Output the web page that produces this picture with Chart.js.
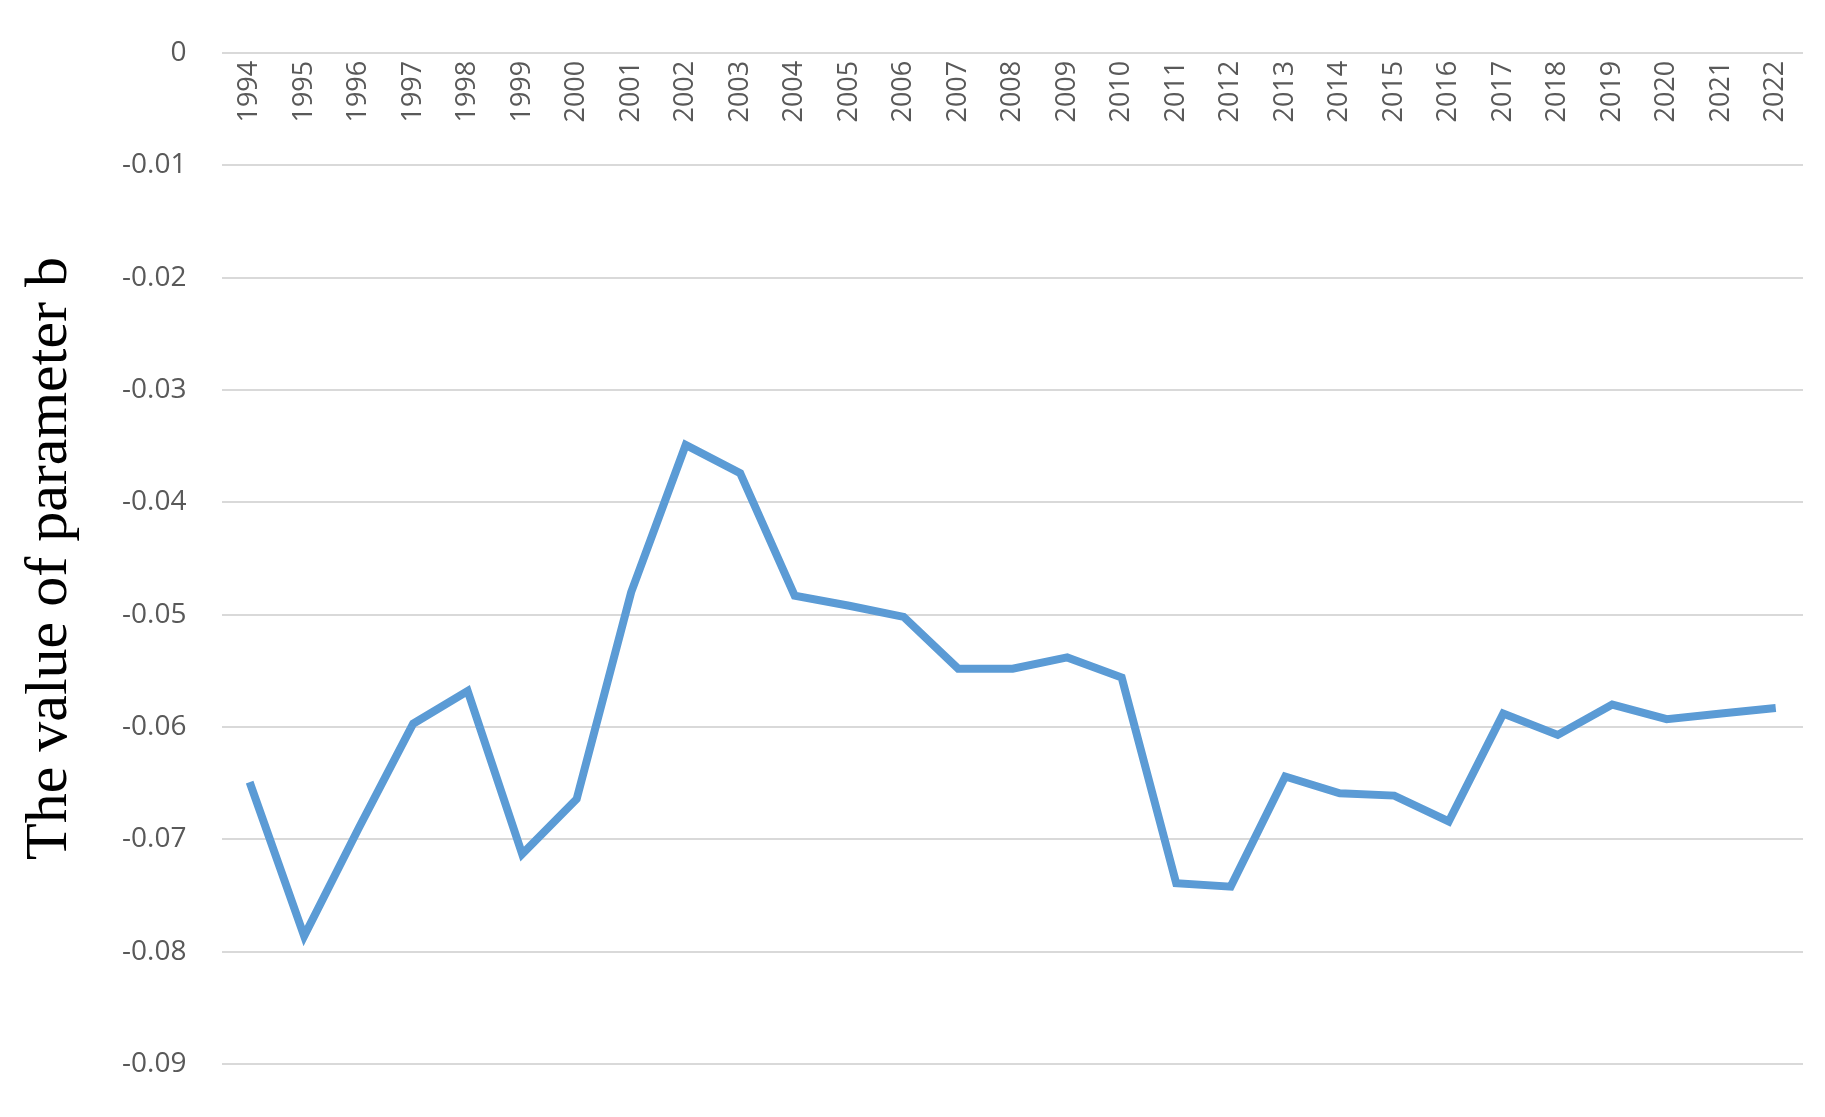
<!DOCTYPE html>
<html>
<head>
<meta charset="utf-8">
<script src="https://cdn.jsdelivr.net/npm/chart.js@4"></script>
<style>
  html, body { margin: 0; padding: 0; background: #fff; }
  #wrap { width: 1825px; height: 1117px; }
</style>
</head>
<body>
<div id="wrap"><canvas id="chart"></canvas></div>
<script>
const years = ["1994","1995","1996","1997","1998","1999","2000","2001","2002","2003",
  "2004","2005","2006","2007","2008","2009","2010","2011","2012","2013",
  "2014","2015","2016","2017","2018","2019","2020","2021","2022"];
const paramB = [-0.0649, -0.0786, -0.0690, -0.0597, -0.0568, -0.0713, -0.0664, -0.0480, -0.0349, -0.0374,
  -0.0483, -0.0492, -0.0502, -0.0548, -0.0548, -0.0538, -0.0556, -0.0739, -0.0742, -0.0644,
  -0.0659, -0.0661, -0.0684, -0.0588, -0.0607, -0.0580, -0.0593, -0.0588, -0.0583];
const yTicks = [0, -0.01, -0.02, -0.03, -0.04, -0.05, -0.06, -0.07, -0.08, -0.09];

// year labels sit just under the zero line, rotated
const topLabels = {
  id: "topLabels",
  afterDraw(chart) {
    const ctx = chart.ctx;
    const xs = chart.scales.x;
    const top = chart.chartArea.top;
    ctx.save();
    ctx.font = "27px 'Open Sans', sans-serif";
    ctx.fillStyle = "#595959";
    ctx.textAlign = "right";
    ctx.textBaseline = "middle";
    years.forEach((yr, i) => {
      ctx.save();
      ctx.translate(xs.getPixelForValue(i), top + 8);
      ctx.rotate(-Math.PI / 2);
      ctx.fillText(yr, 0, 0);
      ctx.restore();
    });
    ctx.restore();
  }
};

new Chart(document.getElementById("chart"), {
  type: "line",
  data: {
    labels: years,
    datasets: [{
      data: paramB,
      borderColor: "#5b9bd5",
      borderWidth: 8,
      pointRadius: 0,
      tension: 0,
      fill: false
    }]
  },
  options: {
    responsive: true,
    maintainAspectRatio: false,
    animation: false,
    layout: { padding: { top: 11, right: 22, bottom: 2, left: 14 } },
    plugins: { legend: { display: false }, tooltip: { enabled: false } },
    scales: {
      x: {
        display: false,
        offset: true
      },
      y: {
        min: -0.09,
        max: 0,
        afterBuildTicks(scale) { scale.ticks = yTicks.map(v => ({ value: v })); },
        grid: { color: "#d9d9d9", lineWidth: 2, drawTicks: false },
        border: { display: false },
        ticks: {
          color: "#595959",
          font: { size: 28, family: "'Open Sans', sans-serif" },
          padding: 36,
          callback: v => String(Math.round(v * 100) / 100)
        },
        title: {
          display: true,
          text: "The value of parameter b",
          color: "#000",
          font: { size: 60, family: "'Liberation Serif', serif" },
          padding: 0
        }
      }
    }
  },
  plugins: [topLabels]
});
</script>
</body>
</html>
